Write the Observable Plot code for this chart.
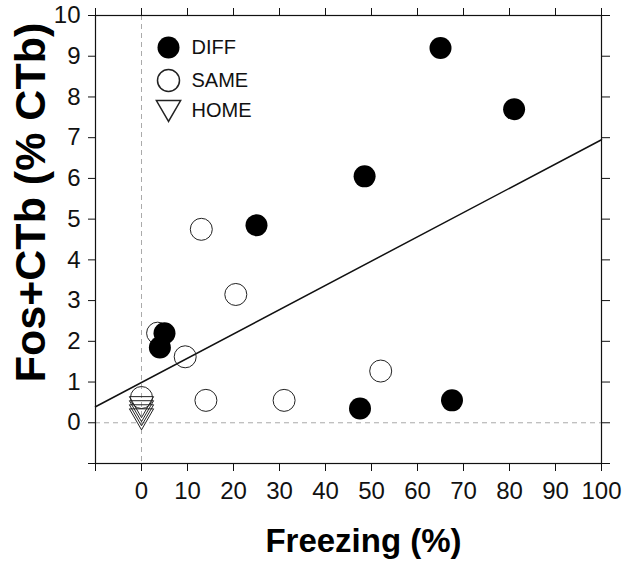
<!DOCTYPE html>
<html><head><meta charset="utf-8">
<script src="https://cdn.jsdelivr.net/npm/d3@7"></script>
<script src="https://cdn.jsdelivr.net/npm/@observablehq/plot@0.6"></script>
<style>body{margin:0;background:#fff}</style>
</head><body><div id="chart"></div>
<script>
// DIFF group (filled circles)
const diffX = [65, 81, 48.5, 25, 5, 4, 47.5, 67.5];
const diffY = [9.2, 7.7, 6.05, 4.85, 2.2, 1.85, 0.35, 0.55];
// SAME group (open circles)
const sameX = [13, 20.5, 3.5, 9.5, 0, 14, 31, 52];
const sameY = [4.75, 3.15, 2.2, 1.62, 0.62, 0.55, 0.55, 1.27];
// HOME group (open down triangles)
const homeX = [0, 0, 0, 0];
const homeY = [0.47, 0.37, 0.27, 0.17];
// regression line
const fitIntercept = 0.99;
const fitSlope = 0.0596;
const xDomain = [-10, 100];
const yDomain = [-1, 10];
const xTicks = [-10, 0, 10, 20, 30, 40, 50, 60, 70, 80, 90, 100];
const yTicks = [-1, 0, 1, 2, 3, 4, 5, 6, 7, 8, 9, 10];
const legendLabels = ["DIFF", "SAME", "HOME"];
const xTitle = "Freezing (%)";
const yTitle = "Fos+CTb (% CTb)";

const diff = diffX.map((x, i) => ({x, y: diffY[i]}));
const same = sameX.map((x, i) => ({x, y: sameY[i]}));
const home = homeX.map((x, i) => ({x, y: homeY[i]}));
const fit = xDomain.map(x => ({x, y: fitIntercept + fitSlope * x}));

const font = "'Liberation Sans', Arial, Helvetica, sans-serif";
const hideNeg = d => d < 0 ? "" : String(d);

const chart = Plot.plot({
  width: 627,
  height: 566,
  marginLeft: 95,
  marginRight: 26,
  marginTop: 15,
  marginBottom: 103,
  style: {fontFamily: font, fontSize: "24px", color: "#111", background: "#fff"},
  x: {domain: xDomain},
  y: {domain: yDomain},
  marks: [
    Plot.ruleX([0], {stroke: "#aaa", strokeDasharray: "5,4", strokeWidth: 1}),
    Plot.ruleY([0], {stroke: "#aaa", strokeDasharray: "5,4", strokeWidth: 1}),
    Plot.line(fit, {x: "x", y: "y", stroke: "#111", strokeWidth: 1.5}),
    Plot.dot(same, {x: "x", y: "y", r: 11, stroke: "#222", strokeWidth: 1, fill: "none"}),
    Plot.dot(home, {x: "x", y: "y", r: 9, symbol: "triangle", rotate: 180, stroke: "#222", strokeWidth: 1, fill: "none"}),
    Plot.dot(diff, {x: "x", y: "y", r: 11, fill: "#000", stroke: "none"}),
    // legend
    Plot.dot([legendLabels[0]], {frameAnchor: "top-left", dx: 73, dy: 32, r: 11, fill: "#000"}),
    Plot.dot([legendLabels[1]], {frameAnchor: "top-left", dx: 73, dy: 65, r: 11, stroke: "#222", fill: "none"}),
    Plot.dot([legendLabels[2]], {frameAnchor: "top-left", dx: 73, dy: 92, r: 9, symbol: "triangle", rotate: 180, stroke: "#222", fill: "none"}),
    Plot.text([legendLabels[0]], {frameAnchor: "top-left", dx: 96, dy: 32, text: d => d, textAnchor: "start", lineAnchor: "middle", fontSize: 20}),
    Plot.text([legendLabels[1]], {frameAnchor: "top-left", dx: 96, dy: 65, text: d => d, textAnchor: "start", lineAnchor: "middle", fontSize: 20}),
    Plot.text([legendLabels[2]], {frameAnchor: "top-left", dx: 96, dy: 95, text: d => d, textAnchor: "start", lineAnchor: "middle", fontSize: 20}),
    // axes
    Plot.axisX({anchor: "bottom", ticks: xTicks, tickFormat: hideNeg, tickSize: 8, tickPadding: 10, label: null, stroke: "#111"}),
    Plot.axisX({anchor: "top", ticks: xTicks, tickFormat: () => "", tickSize: 8, label: null, stroke: "#111"}),
    Plot.axisY({anchor: "left", ticks: yTicks, tickFormat: hideNeg, tickSize: 7, tickPadding: 8, label: null, stroke: "#111"}),
    Plot.axisY({anchor: "right", ticks: yTicks, tickFormat: () => "", tickSize: 8, label: null, stroke: "#111"}),
    Plot.frame({stroke: "#111", strokeWidth: 1.2}),
    // titles
    Plot.text([xTitle], {frameAnchor: "bottom", dx: 15, dy: 78, text: d => d, textAnchor: "middle", lineAnchor: "middle", fontSize: 33, fontWeight: "bold", fill: "#000"}),
    Plot.text([yTitle], {frameAnchor: "left", dx: -64, dy: -37, rotate: -90, text: d => d, textAnchor: "middle", lineAnchor: "middle", fontSize: 43, fontWeight: "bold", fill: "#000"})
  ]
});
document.getElementById("chart").appendChild(chart);
</script>
</body></html>
